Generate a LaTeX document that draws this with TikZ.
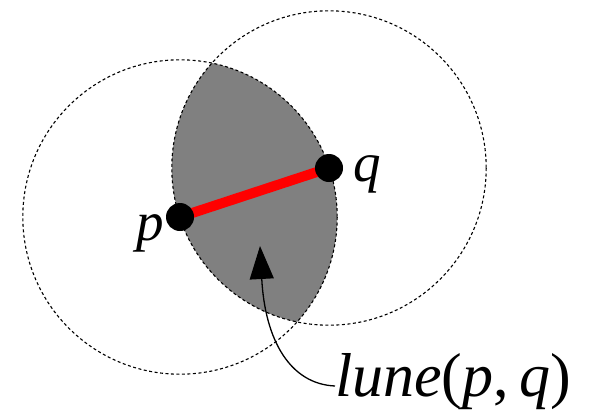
\documentclass[tikz,border=0pt]{standalone}
\usepackage{fontspec}
\setmainfont{Liberation Serif}
\usetikzlibrary{arrows.meta}
\begin{document}
\begin{tikzpicture}[x=1pt,y=-1pt,
  circ/.style={draw=black, line width=1.1pt, dash pattern=on 3pt off 2.5pt},
  dot/.style={circle, fill=black, inner sep=0pt, minimum size=28pt},
  lbl/.style={font=\fontsize{55}{60}\selectfont\itshape, inner sep=0pt}]
\useasboundingbox (0,0) rectangle (596,415);
\coordinate (P) at (180,217);
\coordinate (Q) at (329,168);
\begin{scope}
  \clip (P) circle (157.2);
  \fill[black!50] (Q) circle (157.2);
\end{scope}
\draw[circ] (P) circle (157.2);
\draw[circ] (Q) circle (157.2);
\draw[red, line width=10pt] (P) -- (Q);
\node[dot] (p) at (P) {};
\node[dot] (q) at (Q) {};
\node[lbl, anchor=base east] (pl) at (164,240) {p};
\node[lbl, anchor=base west] (ql) at (353,181) {q};
\node[lbl, anchor=base west, font=\fontsize{62}{68}\selectfont] (lune) at (335,396) {\textit{lune}(\textit{p},\,\textit{q})};
\coordinate (tip) at (260,246);
\draw[line width=1.3pt, -{Triangle[width=24pt,length=33pt]}] (lune.west |- 0,386) .. controls (290,384) and (265,340) .. (tip);
\end{tikzpicture}
\end{document}
